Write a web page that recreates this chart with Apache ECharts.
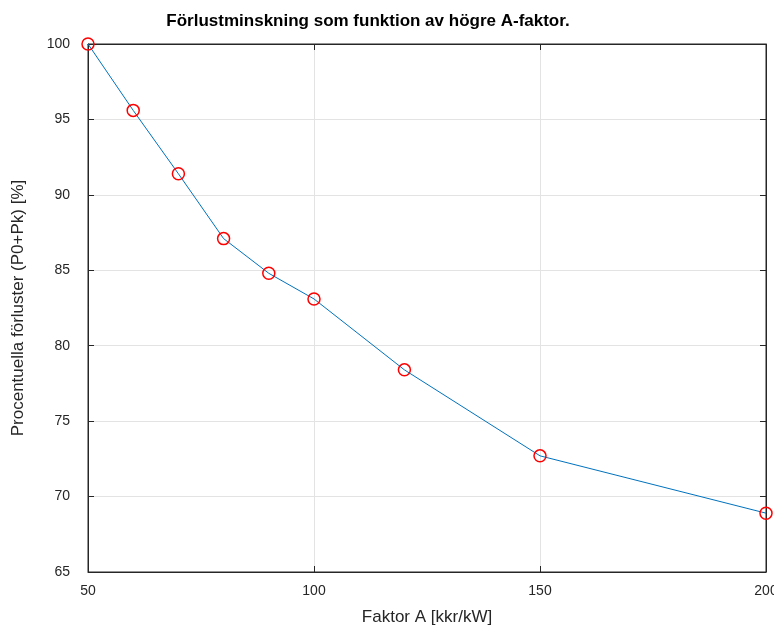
<!DOCTYPE html>
<html><head><meta charset="utf-8">
<script src="https://cdn.jsdelivr.net/npm/echarts@6/dist/echarts.min.js"></script>
<style>html,body{margin:0;padding:0;background:#fff}#c{width:774px;height:627px}</style>
</head><body><div id="c"></div>
<script>
const titleText = 'Förlustminskning som funktion av högre A-faktor.';
const xName = 'Faktor A [kkr/kW]';
const yName = 'Procentuella förluster (P0+Pk) [%]';
const factorA = [50, 60, 70, 80, 90, 100, 120, 150, 200];
const losses = [100, 95.6, 91.4, 87.1, 84.8, 83.1, 78.4, 72.7, 68.9];

const chart = echarts.init(document.getElementById('c'), null, {renderer: 'canvas'});
const font = 'Liberation Sans, Arial, sans-serif';
const axisCol = '#262626';
const common = {
  axisLine: {show: true, onZero: false, lineStyle: {color: axisCol, width: 1}},
  axisTick: {show: true, inside: true, length: 6, lineStyle: {color: axisCol}},
  splitLine: {show: true, lineStyle: {color: '#e3e3e3', width: 1}}
};
chart.setOption({
  animation: false,
  backgroundColor: '#fff',
  title: {text: titleText, left: 363, top: 8, textAlign: 'center',
    textStyle: {fontFamily: font, fontSize: 17, fontWeight: 'bold', color: '#000'}},
  grid: {left: 88, right: 8, top: 44, bottom: 55, show: true, borderColor: axisCol, borderWidth: 1,
    backgroundColor: '#fff', containLabel: false, outerBoundsMode: 'none'},
  xAxis: [{
    type: 'value', min: 50, max: 200, interval: 50, position: 'bottom',
    name: xName, nameLocation: 'middle', nameGap: 37,
    nameTextStyle: {fontFamily: font, fontSize: 17, color: axisCol},
    axisLabel: {fontFamily: font, fontSize: 14, color: axisCol, margin: 12},
    ...common
  }, {
    type: 'value', min: 50, max: 200, interval: 50, position: 'top',
    axisLabel: {show: false}, splitLine: {show: false},
    axisLine: {show: true, onZero: false, lineStyle: {color: axisCol}},
    axisTick: {show: true, inside: true, length: 6, lineStyle: {color: axisCol}}
  }],
  yAxis: [{
    type: 'value', min: 65, max: 100, interval: 5, position: 'left',
    name: yName, nameLocation: 'middle', nameGap: 61, nameRotate: 90,
    nameTextStyle: {fontFamily: font, fontSize: 17, color: axisCol},
    axisLabel: {fontFamily: font, fontSize: 14, color: axisCol, margin: 18},
    ...common
  }, {
    type: 'value', min: 65, max: 100, interval: 5, position: 'right',
    axisLabel: {show: false}, splitLine: {show: false},
    axisLine: {show: true, onZero: false, lineStyle: {color: axisCol}},
    axisTick: {show: true, inside: true, length: 6, lineStyle: {color: axisCol}}
  }],
  series: [{
    type: 'line',
    data: factorA.map((x, i) => [x, losses[i]]),
    lineStyle: {color: '#0072BD', width: 1},
    symbol: 'circle', symbolSize: 12,
    itemStyle: {color: 'rgba(0,0,0,0)', borderColor: '#FF0000', borderWidth: 1.5},
    showAllSymbol: true,
    clip: false
  }]
});
</script></body></html>
